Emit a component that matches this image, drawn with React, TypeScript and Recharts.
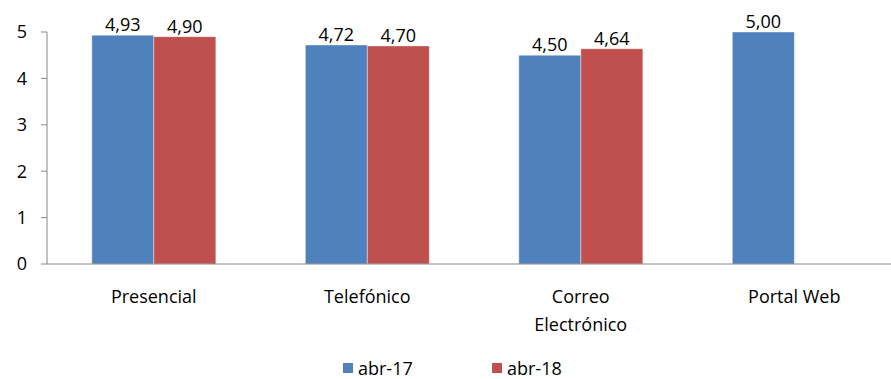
import { BarChart, Bar, XAxis, YAxis, Legend, LabelList, Text } from "recharts";

const categories = ["Presencial", "Telefónico", "Correo Electrónico", "Portal Web"];
const abr17 = [4.93, 4.72, 4.5, 5.0];
const abr18: (number | null)[] = [4.9, 4.7, 4.64, null];
const yTicks = [0, 1, 2, 3, 4, 5];

const data = categories.map((name, i) => ({ name, abr17: abr17[i], abr18: abr18[i] }));

const FONT = "'Open Sans', 'Noto Sans', sans-serif";
const BLUE = "#4F81BD";
const RED = "#C0504D";

const fmt = (v: unknown) => (v == null ? "" : Number(v).toFixed(2).replace(".", ","));

// category names wrap onto a second line when wider than the slot
function CategoryTick({ x, y, payload }: any) {
  return (
    <Text
      x={x}
      y={y + 18}
      width={120}
      textAnchor="middle"
      verticalAnchor="start"
      lineHeight={28}
      style={{ fontSize: 18, fontFamily: FONT, fill: "#000" }}
    >
      {payload.value}
    </Text>
  );
}

function LegendBox() {
  const items = [
    { label: "abr-17", color: BLUE },
    { label: "abr-18", color: RED },
  ];
  return (
    <div style={{ display: "flex", paddingTop: 19, paddingLeft: 343, height: 20, lineHeight: "20px" }}>
      {items.map((it) => (
        <div key={it.label} style={{ display: "flex", alignItems: "center", width: 149, fontFamily: FONT, fontSize: 18 }}>
          <span style={{ width: 10, height: 10, background: it.color, marginRight: 5, display: "inline-block" }} />
          {it.label}
        </div>
      ))}
    </div>
  );
}

export default function App() {
  return (
    <div style={{ position: "absolute", left: 0, top: 0, width: 891, height: 379, overflow: "hidden", background: "#fff" }}>
      <BarChart
        width={901}
        height={379}
        data={data}
        margin={{ top: 32, right: 0, left: 0, bottom: 0 }}
        barGap={0}
        barCategoryGap="21%"
      >
        <YAxis
          width={47}
          domain={[0, 5]}
          ticks={yTicks}
          interval={0}
          axisLine={{ stroke: "#868686" }}
          tickLine={{ stroke: "#868686" }}
          tickSize={6}
          tickMargin={14}
          tick={{ fontSize: 18, fill: "#000", fontFamily: FONT }}
        />
        <XAxis
          dataKey="name"
          height={75}
          axisLine={{ stroke: "#868686" }}
          tickLine={false}
          interval={0}
          tick={<CategoryTick />}
        />
        <Legend verticalAlign="bottom" height={40} content={<LegendBox />} />
        <Bar dataKey="abr17" fill={BLUE} stroke="#ffffff" strokeOpacity={0.4} isAnimationActive={false}>
          <LabelList dataKey="abr17" position="top" offset={4} formatter={fmt} style={{ fontSize: 18, fill: "#000", fontFamily: FONT }} />
        </Bar>
        <Bar dataKey="abr18" fill={RED} stroke="#ffffff" strokeOpacity={0.4} isAnimationActive={false}>
          <LabelList dataKey="abr18" position="top" offset={4} formatter={fmt} style={{ fontSize: 18, fill: "#000", fontFamily: FONT }} />
        </Bar>
      </BarChart>
    </div>
  );
}
